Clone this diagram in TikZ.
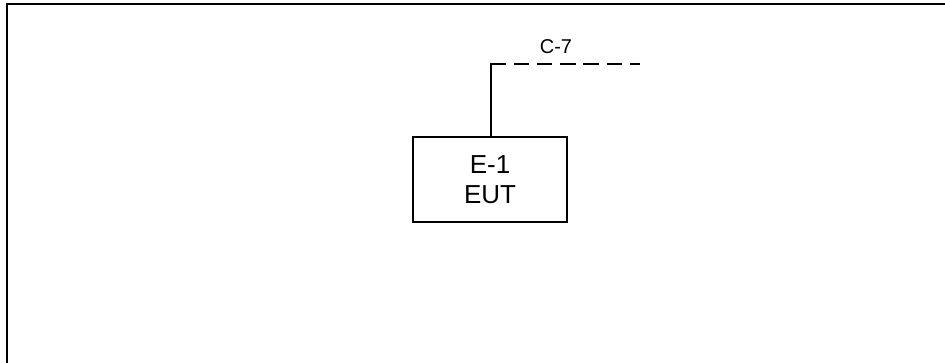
\documentclass[tikz,border=0pt]{standalone}
\usepackage{fontspec}
\setmainfont{Liberation Sans}
\begin{document}
\begin{tikzpicture}[x=1pt,y=-1pt,
  frameline/.style={line width=2pt},
  eutbox/.style={draw,line width=1.5pt,minimum width=154pt,minimum height=85pt,inner sep=0pt,align=center,font=\fontsize{26}{30.6}\selectfont},
  solidwire/.style={line width=1.6pt},
  cablewire/.style={line width=2pt,dash pattern=on 15.6pt off 7.7pt},
  cablelabel/.style={inner sep=0pt,anchor=base,font=\fontsize{20}{24}\selectfont}]
\useasboundingbox (0,0) rectangle (945,363);
\fill[white] (0,0) rectangle (945,363);
\draw[frameline] (6.5,364) -- (6.5,4.5) -- (946,4.5);
\node[eutbox] (e1) at (490,179.5) {E-1\\EUT};
\coordinate (corner) at (491,64);
\coordinate (cend) at (640,64);
\draw[solidwire] (e1.north -| corner) -- ([yshift=-0.8pt]corner);
\draw[cablewire] ([xshift=-0.8pt]corner) -- (cend);
\node[cablelabel] (c7) at (556,54) {C-7};
\end{tikzpicture}
\end{document}
